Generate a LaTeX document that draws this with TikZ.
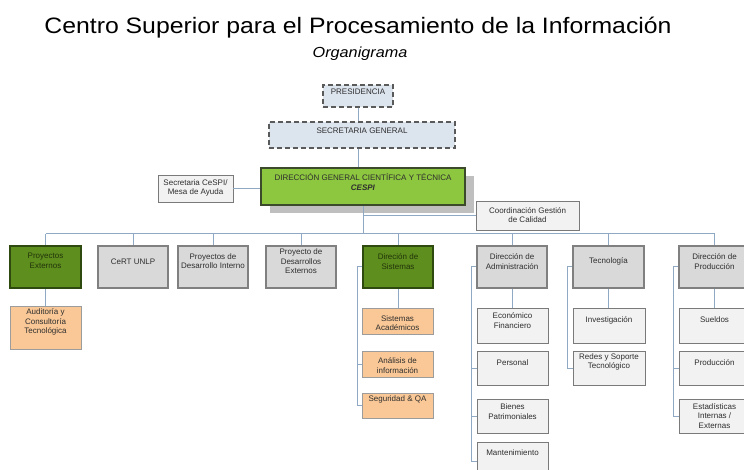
\documentclass[tikz,border=0pt]{standalone}
\usepackage{fontspec}
\usepackage{graphicx}
\setmainfont{Liberation Sans}
\usetikzlibrary{shadows}
\definecolor{connc}{HTML}{8FA8C4}
\definecolor{txtc}{HTML}{2E2E2E}
\definecolor{gfill}{HTML}{D9D9D9}
\definecolor{gdraw}{HTML}{808080}
\definecolor{dgfill}{HTML}{5E8E1E}
\definecolor{dgdraw}{HTML}{2F4A0E}
\definecolor{dgtext}{HTML}{22340A}
\definecolor{mfill}{HTML}{8DC63F}
\definecolor{mdraw}{HTML}{3A4A2A}
\definecolor{cfill}{HTML}{F2F2F2}
\definecolor{cdraw}{HTML}{7A7A7A}
\definecolor{ofill}{HTML}{FAC896}
\definecolor{odraw}{HTML}{9C9C9C}
\definecolor{bfill}{HTML}{DCE4EE}
\definecolor{dashc}{HTML}{5A5A5A}
\definecolor{shadowc}{HTML}{BFBFBF}
\begin{document}
\begin{tikzpicture}[x=1pt,y=-1pt,
  conn/.style={draw=connc, line width=1pt},
  txt/.style={font=\fontsize{8}{9.6}\selectfont, align=center, text=txtc, inner sep=0pt},
  box/.style={rectangle, inner sep=0pt, minimum width=71pt},
  cbox/.style={box, fill=cfill, draw=cdraw, line width=0.8pt},
  obox/.style={box, fill=ofill, draw=odraw, line width=0.8pt},
  gbox/.style={box, fill=gfill, draw=gdraw, line width=2.5pt, minimum height=42pt},
  dgbox/.style={box, fill=dgfill, draw=dgdraw, line width=2pt, minimum height=42pt},
  dashbox/.style={box, fill=bfill, draw=dashc, dash pattern=on 5pt off 3pt, line width=1.3pt},
  mainbox/.style={box, fill=mfill, draw=mdraw, line width=2.5pt,
     drop shadow={shadow xshift=9pt, shadow yshift=-8pt, fill=shadowc, opacity=1}}
]
\clip (0,0) rectangle (744,470);
\fill[white] (0,0) rectangle (744,470);

% titles
\node[anchor=base, inner sep=0pt, font=\fontsize{24.8}{28}\selectfont] (title) at (358,34)
  {\scalebox{1}[0.9]{Centro Superior para el Procesamiento de la Información}};
\node[anchor=base, inner sep=0pt, font=\fontsize{16.2}{18}\selectfont\itshape] (subtitle) at (360,58)
  {\scalebox{1}[0.9]{Organigrama}};

% upper chain
\node[dashbox, minimum width=70pt, minimum height=22pt] (pres) at (358,96) {};
\node[txt] (pres-t) at (358,92) {PRESIDENCIA};
\node[dashbox, minimum width=186pt, minimum height=26pt] (sec) at (362,135) {};
\node[txt] (sec-t) at (362,131) {SECRETARIA GENERAL};
\node[mainbox, minimum width=204pt, minimum height=37pt] (dg) at (363,186.5) {};
\node[txt] (dg-t) at (363,182) {DIRECCIÓN GENERAL CIENTÍFICA Y TÉCNICA\\\textbf{\textit{CESPI}}};
\node[cbox, minimum width=75pt, minimum height=27pt] (sc) at (195.5,188.5) {};
\node[txt] (sc-t) at (195.5,188) {Secretaria CeSPI/\\Mesa de Ayuda};
\node[cbox, minimum width=103pt, minimum height=29pt] (coord) at (527.5,215.5) {};
\node[txt] (coord-t) at (527.5,215) {Coordinación Gestión\\de Calidad};

\draw[conn] (pres.south) -- (pres.south |- sec.north);
\draw[conn] (pres.south |- sec.south) -- (pres.south |- dg.north);
\draw[conn] (sc.east) -- (sc.east -| dg.west);

% top level row
\node[dgbox] (pe) at (45.5,267) {};
\node[txt, text=dgtext] (pe-t) at (45.5,261) {Proyectos\\Externos};
\node[gbox, minimum width=70pt] (cert) at (133,267) {};
\node[txt] (cert-t) at (133,262) {CeRT UNLP};
\node[gbox, minimum width=70pt] (pdi) at (213,267) {};
\node[txt] (pdi-t) at (213,261) {Proyectos de\\Desarrollo Interno};
\node[gbox, minimum width=70pt] (pde) at (301,267) {};
\node[txt] (pde-t) at (301,261.5) {Proyecto de\\Desarrollos\\Externos};
\node[dgbox, minimum width=70pt] (ds) at (398,267) {};
\node[txt, text=dgtext] (ds-t) at (398,261.5) {Direción de\\Sistemas};
\node[gbox, minimum width=70pt] (da) at (512,267) {};
\node[txt] (da-t) at (512,261.5) {Dirección de\\Administración};
\node[gbox] (tec) at (608.5,267) {};
\node[txt] (tec-t) at (608.5,261) {Tecnología};
\node[gbox] (dp) at (714.5,267) {};
\node[txt] (dp-t) at (714.5,261.5) {Dirección de\\Producción};

\coordinate (busL) at (45.5,234);
\coordinate (busR) at (714.5,234);
\draw[conn] (dg.south) -- (dg.south |- busL);
\draw[conn] (dg.south |- coord.west) -- (coord.west);
\draw[conn] (busL) -- (busR);
\foreach \n in {pe,cert,pdi,pde,ds,da,tec,dp}
  \draw[conn] (\n.north) -- (\n.north |- busL);

% children
\node[obox, minimum height=43pt] (aud) at (45.5,327.5) {};
\node[txt] (aud-t) at (45.5,322) {Auditoría y\\Consultoría\\Tecnológica};

\node[obox, minimum height=26pt] (sa) at (397.5,321.5) {};
\node[txt] (sa-t) at (397.5,323) {Sistemas\\Académicos};
\node[obox, minimum height=26pt] (ai) at (397.5,364) {};
\node[txt] (ai-t) at (397.5,365.5) {Análisis de\\información};
\node[obox, minimum height=25pt] (sqa) at (397.5,405.5) {};
\node[txt] (sqa-t) at (397.5,399) {Seguridad \& QA};

\node[cbox, minimum height=35pt] (ef) at (512.5,325.5) {};
\node[txt] (ef-t) at (512.5,320.5) {Económico\\Financiero};
\node[cbox, minimum height=34pt] (per) at (512.5,368) {};
\node[txt] (per-t) at (512.5,363) {Personal};
\node[cbox, minimum height=34pt] (bp) at (512.5,416) {};
\node[txt] (bp-t) at (512.5,411.5) {Bienes\\Patrimoniales};
\node[cbox, minimum height=38pt] (man) at (512.5,461) {};
\node[txt] (man-t) at (512.5,453) {Mantenimiento};

\node[cbox, minimum width=72pt, minimum height=35pt] (inv) at (609,325.5) {};
\node[txt] (inv-t) at (609,320) {Investigación};
\node[cbox, minimum width=72pt, minimum height=34pt] (rst) at (609,368) {};
\node[txt] (rst-t) at (609,362) {Redes y Soporte\\Tecnológico};

\node[cbox, minimum height=35pt] (su) at (714.5,325.5) {};
\node[txt] (su-t) at (714.5,320) {Sueldos};
\node[cbox, minimum height=34pt] (prod) at (714.5,368) {};
\node[txt] (prod-t) at (714.5,363) {Producción};
\node[cbox, minimum height=34pt] (est) at (714.5,416) {};
\node[txt] (est-t) at (714.5,416) {Estadísticas\\Internas /\\Externas};

% child connectors
\draw[conn] (pe.south) -- (aud.north);
\draw[conn] (ds.south) -- (ds.south |- sa.north);
\draw[conn] (da.south) -- (da.south |- ef.north);
\draw[conn] (tec.south) -- (tec.south |- inv.north);
\draw[conn] (dp.south) -- (dp.south |- su.north);

\draw[conn] (ds.west) -- ++(-5,0) |- (ai.west);
\draw[conn] (ds.west) -- ++(-5,0) |- (sqa.west);
\draw[conn] (da.west) -- ++(-4,0) |- (per.west);
\draw[conn] (da.west) -- ++(-4,0) |- (bp.west);
\draw[conn] (da.west) -- ++(-4,0) |- (man.west);
\draw[conn] (tec.west) -- ++(-4,0) |- (rst.west);
\draw[conn] (dp.west) -- ++(-4,0) |- (prod.west);
\draw[conn] (dp.west) -- ++(-4,0) |- (est.west);
\end{tikzpicture}
\end{document}
